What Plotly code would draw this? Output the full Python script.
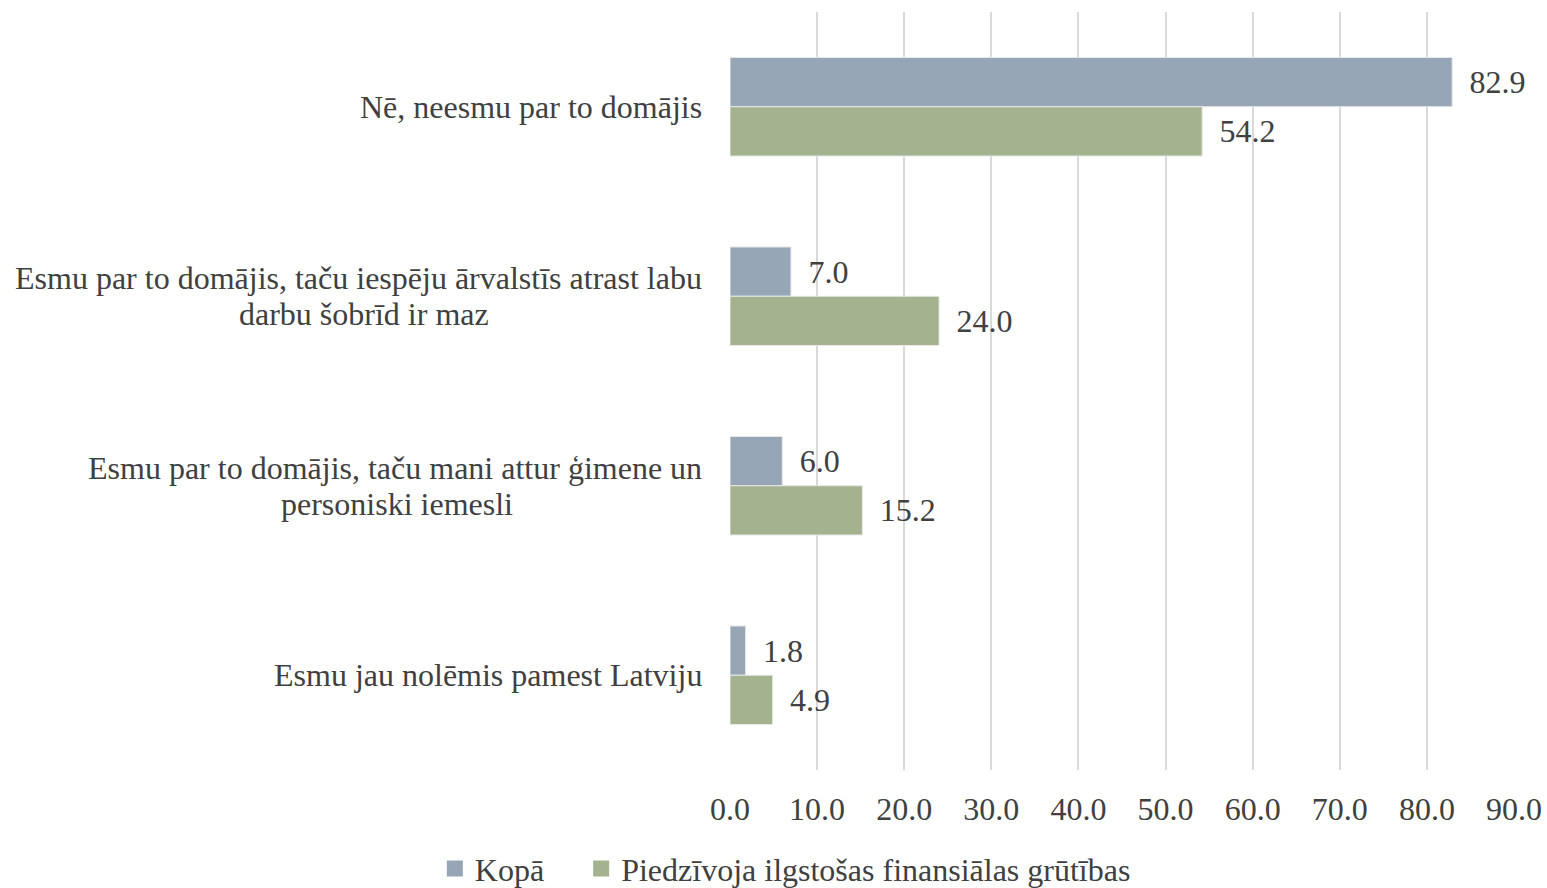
import plotly.graph_objects as go

categories = [
    "Nē, neesmu par to domājis",
    "Esmu par to domājis, taču iespēju ārvalstīs atrast labu<br>darbu šobrīd ir maz",
    "Esmu par to domājis, taču mani attur ģimene un<br>personiski iemesli",
    "Esmu jau nolēmis pamest Latviju",
]
kopa = [82.9, 7.0, 6.0, 1.8]
gruti = [54.2, 24.0, 15.2, 4.9]
x_ticks = [0, 10, 20, 30, 40, 50, 60, 70, 80, 90]
series_names = ["Kopā", "Piedzīvoja ilgstošas finansiālas grūtības"]

FONT = "Liberation Serif, Times New Roman, serif"
SIZE = 32
TEXT = "#404040"
BLUE = "#97A6B7"
GREEN = "#A5B28F"

fig = go.Figure()
for name, vals, col in [(series_names[0], kopa, BLUE), (series_names[1], gruti, GREEN)]:
    fig.add_trace(go.Bar(
        y=list(range(len(categories))),
        x=vals,
        orientation="h",
        name=name,
        showlegend=False,
        marker={"color": col, "line": {"color": "#E8E8E8", "width": 1}},
        text=[f"\u00a0\u2009{v:.1f}" for v in vals],
        textposition="outside",
        textfont={"size": SIZE, "color": TEXT},
        cliponaxis=False,
    ))

# legend entries with larger square swatches
legend_labels = [series_names[0] + "\u00a0" * 4, series_names[1]]
for lab, col in zip(legend_labels, [BLUE, GREEN]):
    fig.add_trace(go.Scatter(
        x=[None], y=[None], mode="markers", name=lab,
        marker={"symbol": "square", "size": 17, "color": col},
    ))

# category labels: first line right-aligned, following line centred under it
PLOT_L, PLOT_W = 730, 784
for i, c in enumerate(categories):
    lines = c.split("<br>")
    if len(lines) == 1:
        fig.add_annotation(
            x=0, xref="paper", xanchor="right", xshift=-26,
            y=i, yref="y", yanchor="middle",
            text=c, showarrow=False,
            font={"size": SIZE, "color": TEXT, "family": FONT},
        )
        continue
    fig.add_annotation(
        x=0, xref="paper", xanchor="right", xshift=-26,
        y=i, yref="y", yanchor="middle", yshift=18,
        text=lines[0], showarrow=False,
        font={"size": SIZE, "color": TEXT, "family": FONT},
    )
    centre_px = 364 if i == 1 else 397
    fig.add_annotation(
        x=(centre_px - PLOT_L) / PLOT_W, xref="paper", xanchor="center",
        y=i, yref="y", yanchor="middle", yshift=-18,
        text=lines[1], showarrow=False,
        font={"size": SIZE, "color": TEXT, "family": FONT},
    )

fig.update_layout(
    width=1547,
    height=888,
    barmode="group",
    bargap=0.48,
    bargroupgap=0,
    paper_bgcolor="white",
    plot_bgcolor="white",
    font={"family": FONT, "size": SIZE, "color": TEXT},
    margin=dict(l=PLOT_L, r=33, t=12, b=118, autoexpand=False),
    xaxis={
        "range": [0, 90],
        "tickvals": x_ticks,
        "ticktext": [f"{v:.1f}" for v in x_ticks],
        "showgrid": True,
        "gridcolor": "#D9D9D9",
        "gridwidth": 2,
        "zeroline": False,
        "showline": False,
        "ticks": "",
        "ticklabelstandoff": 17,
        "tickfont": {"size": SIZE, "color": TEXT},
        "automargin": False,
    },
    yaxis={
        "autorange": "reversed",
        "showticklabels": False,
        "showgrid": False,
        "zeroline": False,
        "automargin": False,
    },
    legend={
        "orientation": "h",
        "x": 0.0706,
        "xanchor": "center",
        "y": -0.094,
        "yanchor": "top",
        "font": {"size": SIZE, "color": TEXT},
        "itemwidth": 30,
        "traceorder": "normal",
    },
)

fig.write_html(
    "out.html",
    config={"displayModeBar": False},
    post_script="document.body.style.margin='0';",
)
